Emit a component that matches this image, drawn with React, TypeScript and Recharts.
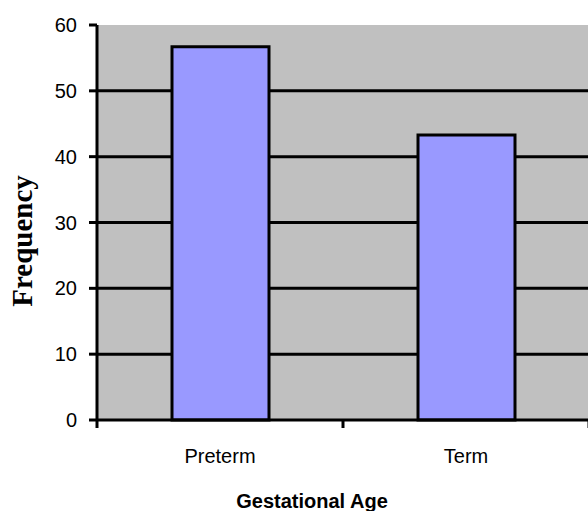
import { BarChart, Bar, XAxis, YAxis, CartesianGrid } from "recharts";

const categories = ["Preterm", "Term"];
const frequencies = [56.7, 43.3];
const yTicks = [0, 10, 20, 30, 40, 50, 60];
const gridValues = [10, 20, 30, 40, 50];

const data = categories.map((name, i) => ({ name, value: frequencies[i] }));

const SANS = "'Liberation Sans', Arial, sans-serif";

// label centred in its band, tick marks on the band edges
const CategoryTick = (props: any) => {
  const { x, y, payload, index, visibleTicksCount } = props;
  const half = payload.offset ?? 0;
  const isLast = index === visibleTicksCount - 1;
  return (
    <g>
      <line x1={x - half} y1={y} x2={x - half} y2={y + 8} stroke="#000" strokeWidth={3} />
      {isLast && <line x1={x + half} y1={y} x2={x + half} y2={y + 8} stroke="#000" strokeWidth={3} />}
      <text x={x} y={y + 43} textAnchor="middle" fill="#000" fontSize={20} fontFamily={SANS}>
        {payload.value}
      </text>
    </g>
  );
};

const YTitle = () => {
  const cx = 32;
  const cy = 241;
  return (
    <text
      x={cx}
      y={cy}
      transform={`rotate(-90, ${cx}, ${cy})`}
      textAnchor="middle"
      fontFamily="'Liberation Serif', 'Times New Roman', serif"
      fontWeight="bold"
      fontSize={29}
      fill="#000"
    >
      Frequency
    </text>
  );
};

const XTitle = ({ viewBox }: any) => (
  <text
    x={viewBox.x + viewBox.width / 2 - 31}
    y={508}
    textAnchor="middle"
    fontFamily={SANS}
    fontWeight="bold"
    fontSize={20}
    fill="#000"
  >
    Gestational Age
  </text>
);

export default function App() {
  return (
    <div style={{ position: "absolute", left: 0, top: 0, width: 588, height: 511, overflow: "hidden", background: "#fff" }}>
      <BarChart width={600} height={511} data={data} margin={{ top: 25, right: 11, left: 0, bottom: 0 }}>
        <CartesianGrid
          fill="#C0C0C0"
          vertical={false}
          horizontalValues={gridValues}
          stroke="#000"
          strokeWidth={3}
          strokeOpacity={1}
        />
        <XAxis
          dataKey="name"
          height={91}
          tickSize={0}
          tickMargin={0}
          axisLine={{ stroke: "#000", strokeWidth: 3 }}
          tickLine={false}
          tick={<CategoryTick />}
          interval={0}
          label={<XTitle />}
        />
        <YAxis
          width={97}
          domain={[0, 60]}
          ticks={yTicks}
          interval={0}
          tickSize={8}
          tickMargin={12}
          axisLine={{ stroke: "#000", strokeWidth: 3 }}
          tickLine={{ stroke: "#000", strokeWidth: 3 }}
          tick={{ fill: "#000", fontSize: 20, fontFamily: SANS }}
          label={<YTitle />}
        />
        <Bar dataKey="value" fill="#9999FF" stroke="#000" strokeWidth={3} barSize={97} isAnimationActive={false} />
      </BarChart>
    </div>
  );
}
